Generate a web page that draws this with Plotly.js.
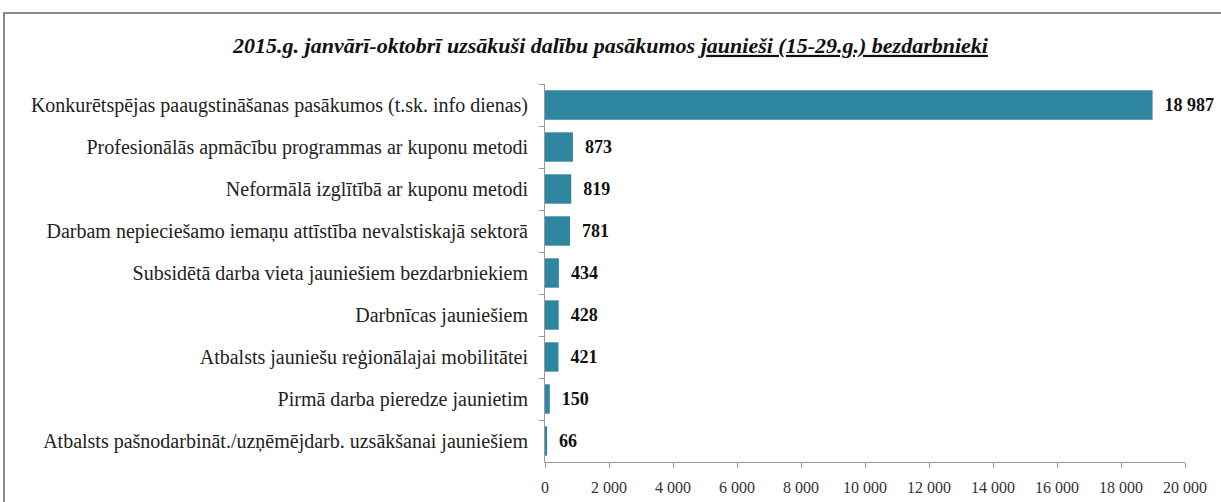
<!DOCTYPE html>
<html><head><meta charset="utf-8">
<script src="https://cdn.plot.ly/plotly-3.0.1.min.js"></script>
<style>
html,body{margin:0;padding:0;background:#fff;overflow:hidden;}
#chart{position:absolute;left:0;top:0;width:1221px;height:502px;}
#frame{position:absolute;left:3px;top:12px;width:1300px;height:600px;border-left:2px solid #8a8a8a;border-top:2px solid #8a8a8a;pointer-events:none;}
</style></head>
<body>
<div id="chart"></div>
<div id="frame"></div>
<script>
const categories = [
  "Konkurētspējas paaugstināšanas pasākumos (t.sk. info dienas)",
  "Profesionālās apmācību programmas ar kuponu metodi",
  "Neformālā izglītībā ar kuponu metodi",
  "Darbam nepieciešamo iemaņu attīstība nevalstiskajā sektorā",
  "Subsidētā darba vieta jauniešiem bezdarbniekiem",
  "Darbnīcas jauniešiem",
  "Atbalsts jauniešu reģionālajai mobilitātei",
  "Pirmā darba pieredze jaunietim",
  "Atbalsts pašnodarbināt./uzņēmējdarb. uzsākšanai jauniešiem"
];
const values = [18987, 873, 819, 781, 434, 428, 421, 150, 66];
const xTicks = [0, 2000, 4000, 6000, 8000, 10000, 12000, 14000, 16000, 18000, 20000];
const titleText = "2015.g. janvārī-oktobrī uzsākuši dalību pasākumos <u>jaunieši (15-29.g.) bezdarbnieki</u>";

const SERIF = "Liberation Serif, Times New Roman, serif";

const trace = {
  type: "bar",
  orientation: "h",
  y: categories,
  x: values,
  marker: {color: "#2f86a0"},
  texttemplate: "\u00a0\u00a0%{x:,d}",
  textposition: "outside",
  cliponaxis: false,
  textfont: {family: SERIF, size: 18, color: "#111", weight: "bold"},
  hoverinfo: "x+y"
};

const layout = {
  width: 1221, height: 502,
  margin: {l: 545, r: 36, t: 84, b: 40},
  paper_bgcolor: "rgba(0,0,0,0)",
  plot_bgcolor: "#fff",
  font: {family: SERIF, size: 14, color: "#222"},
  separators: ", ",
  bargap: 0.3,
  showlegend: false,
  title: {
    text: "<b><i>" + titleText + "</i></b>",
    x: 0.5, xref: "container", xanchor: "center", y: 0.91, yanchor: "middle",
    font: {family: SERIF, size: 22, color: "#111"}
  },
  xaxis: {
    range: [0, 20000],
    tickvals: xTicks,
    tickformat: ",d",
    showgrid: false,
    zeroline: false,
    showline: true, linecolor: "#9a9a9a", linewidth: 1,
    ticks: "outside", ticklen: 5, tickcolor: "#9a9a9a",
    ticklabelstandoff: 6,
    tickfont: {family: SERIF, size: 16, color: "#333"}
  },
  yaxis: {
    type: "category",
    autorange: "reversed",
    showgrid: false,
    showline: true, linecolor: "#9a9a9a", linewidth: 1,
    ticks: "outside", ticklen: 5, tickcolor: "#9a9a9a",
    tickson: "boundaries",
    ticklabelstandoff: 12,
    tickfont: {family: SERIF, size: 20, color: "#222"}
  }
};

Plotly.newPlot("chart", [trace], layout, {displayModeBar: false, staticPlot: true});
</script>
</body></html>
